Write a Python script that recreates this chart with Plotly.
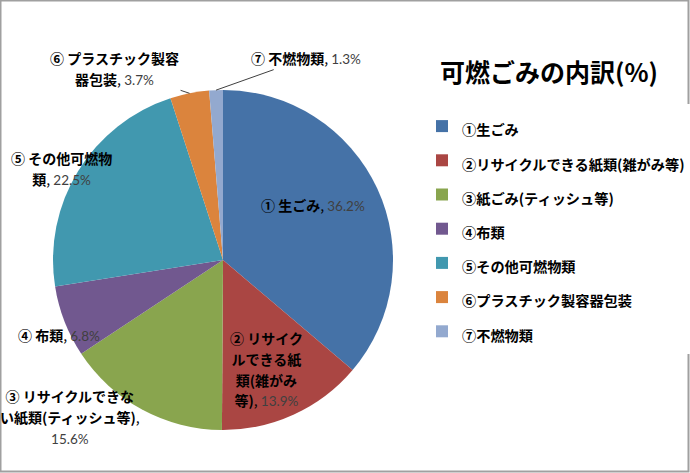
import math
import plotly.graph_objects as go

# chart data
legend_names = ['①生ごみ', '②リサイクルできる紙類(雑がみ等)', '③紙ごみ(ティッシュ等)',
                '④布類', '⑤その他可燃物類', '⑥プラスチック製容器包装', '⑦不燃物類']
label_names = ['① 生ごみ', '② リサイク<br>ルできる紙<br>類(雑がみ<br>等)',
               '③ リサイクルできな<br>い紙類(ティッシュ等)', '④ 布類',
               '⑤ その他可燃物<br>類', '⑥ プラスチック製容<br>器包装', '⑦ 不燃物類']
label_seps = [', ', ', ', ',<br>', ', ', ', ', ', ', ', ']
values = [36.2, 13.9, 15.6, 6.8, 22.5, 3.7, 1.3]
title_text = '可燃ごみの内訳(%)'

colors = ['#4572A7', '#AA4643', '#89A54E', '#71588F', '#4198AF', '#DB843D', '#93A9CF']

W, H = 690, 473
CX, CY, R = 223, 260, 170   # pie centre / radius in pixels
FONT = 'Noto Sans CJK JP'
NUM_FONT = 'Lato'

# label placement (radius factor, pixel shift, arrow offset)
label_rf = [0.6, 0.65, 1.0, 1.0, 1.0, 1.0, 1.0]
label_shift = [(-3, -12), (-3, 9), (-72, 7), (-6, 13), (-17, -3), (0, 0), (0, 0)]
label_arrow = [None, None, None, None, None, (-75, -25), (90, -32)]

fig = go.Figure()
fig.add_trace(go.Pie(labels=legend_names, values=values, sort=False,
                     direction='clockwise', rotation=0, textinfo='none',
                     hoverinfo='label+value',
                     marker=dict(colors=colors, line=dict(width=0)),
                     domain=dict(x=[(CX - R) / W, (CX + R) / W],
                                 y=[1 - (CY + R) / H, 1 - (CY - R) / H])))

total = sum(values)
cum = 0
annotations = []
for i, v in enumerate(values):
    mid = (cum + v / 2) / total * 2 * math.pi
    cum += v
    px = CX + label_rf[i] * R * math.sin(mid)
    py = CY - label_rf[i] * R * math.cos(mid)
    text = (f'<span style="font-size:14px"><b>{label_names[i]}</b>{label_seps[i]}'
            f'<span style="color:#404040;font-family:{NUM_FONT};font-size:13.5px">{v:.1f}%</span></span>')
    ann = dict(x=px / W, y=1 - py / H, xref='paper', yref='paper', text=text,
               xanchor='center', yanchor='middle',
               align='center', font=dict(family=FONT, size=16, color='black'))
    if label_arrow[i]:
        ann.update(showarrow=True, ax=label_arrow[i][0], ay=label_arrow[i][1],
                   arrowhead=0, arrowwidth=1, arrowcolor='#404040')
    else:
        ann.update(showarrow=False, xshift=label_shift[i][0], yshift=-label_shift[i][1])
    annotations.append(ann)

fig.update_layout(annotations=annotations)
fig.update_layout(width=W, height=H, margin=dict(l=0, r=0, t=0, b=0),
                  paper_bgcolor='white', plot_bgcolor='white')
fig.update_layout(title=dict(text=f'<b>{title_text}</b>', x=440 / W, xanchor='left',
                             y=1 - 73 / H, yanchor='middle',
                             font=dict(family=FONT, size=25, color='black')))
fig.update_layout(showlegend=True,
                  legend=dict(x=422 / W, xanchor='left', y=1 - 104 / H, yanchor='top',
                              font=dict(family=FONT, size=24, color='black')))
fig.update_traces(labels=[f'<span style="font-size:14.2px"><b>{n}</b></span>' for n in legend_names])
fig.add_shape(type='rect', xref='paper', yref='paper', x0=0.5 / W, x1=1 - 1.5 / W,
              y0=1.5 / H, y1=1 - 0.5 / H, line=dict(color='#a0a0a0', width=2))

fig.write_html('out.html', config={'displayModeBar': False},
               post_script="document.body.style.margin='0';document.body.style.overflow='hidden';")
